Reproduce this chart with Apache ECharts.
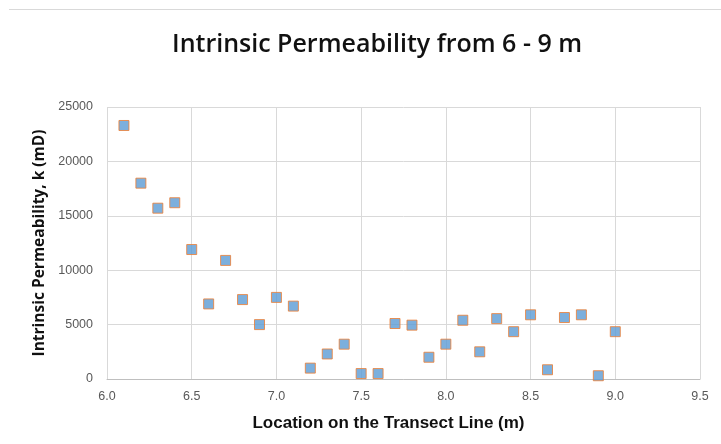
<!DOCTYPE html>
<html>
<head>
<meta charset="utf-8">
<script src="https://cdn.jsdelivr.net/npm/echarts@6/dist/echarts.min.js"></script>
<style>
  html, body { margin: 0; padding: 0; background: #fff; }
  #chart { width: 721px; height: 444px; }
</style>
</head>
<body>
<div id="chart"></div>
<script>
// location along transect (m) and permeability (mD)
var locations = [6.1, 6.2, 6.3, 6.4, 6.5, 6.6, 6.7, 6.8, 6.9, 7.0,
                 7.1, 7.2, 7.3, 7.4, 7.5, 7.6, 7.7, 7.8, 7.9, 8.0,
                 8.1, 8.2, 8.3, 8.4, 8.5, 8.6, 8.7, 8.8, 8.9, 9.0];
var permeability = [23300, 18000, 15700, 16200, 11900, 6900, 10900, 7300, 5000, 7500,
                    6700, 1000, 2300, 3200, 500, 500, 5100, 4950, 2000, 3200,
                    5400, 2500, 5550, 4350, 5900, 850, 5650, 5900, 300, 4350];

var points = locations.map(function (x, i) {
  return [x, permeability[i]]
})

var chart = echarts.init(document.getElementById('chart'))
var option = {
  animation: false,
  title: {
    text: 'Intrinsic Permeability from 6 - 9 m',
    left: 167,
    top: 27,
    textStyle: {
      fontFamily: 'Open Sans',
      fontSize: 25,
      fontWeight: 600,
      color: '#111'
    }
  },
  graphic: [{
    type: 'line',
    shape: { x1: 9, y1: 9.5, x2: 721, y2: 9.5 },
    style: { stroke: '#d9d9d9', lineWidth: 1 }
  }],
  grid: {
    left: 107,
    right: 21,
    top: 107,
    bottom: 65
  },
  xAxis: {
    type: 'value',
    min: 6,
    max: 9.5,
    interval: 0.5,
    name: 'Location on the Transect Line (m)',
    nameLocation: 'middle',
    nameGap: 36,
    nameTextStyle: {
      fontFamily: 'Liberation Sans',
      fontSize: 17,
      fontWeight: 'bold',
      color: '#111',
      padding: [0, 30, 0, 0]
    },
    axisLine: { lineStyle: { color: '#bfbfbf' } },
    axisTick: { show: false },
    axisLabel: {
      color: '#595959',
      fontFamily: 'Liberation Sans',
      fontSize: 12.5,
      margin: 11,
      formatter: function (v) { return v.toFixed(1) }
    },
    splitLine: { show: true, lineStyle: { color: '#d9d9d9' } }
  },
  yAxis: {
    type: 'value',
    min: 0,
    max: 25000,
    interval: 5000,
    name: 'Intrinsic Permeability, k (mD)',
    nameLocation: 'middle',
    nameGap: 53,
    nameTextStyle: {
      fontFamily: 'Open Sans',
      fontSize: 15.5,
      fontWeight: 'bold',
      color: '#111'
    },
    axisLine: { show: false },
    axisTick: { show: false },
    axisLabel: {
      color: '#595959',
      fontFamily: 'Liberation Sans',
      fontSize: 12.5,
      margin: 14,
      formatter: function (v) { return String(v) }
    },
    splitLine: { lineStyle: { color: '#d9d9d9' } }
  },
  series: [{
    type: 'scatter',
    data: points,
    symbol: 'rect',
    symbolSize: 10,
    itemStyle: {
      color: '#5b9bd5',
      borderColor: '#ed7d31',
      borderWidth: 1
    }
  }]
}
chart.setOption(option)
</script>
</body>
</html>
